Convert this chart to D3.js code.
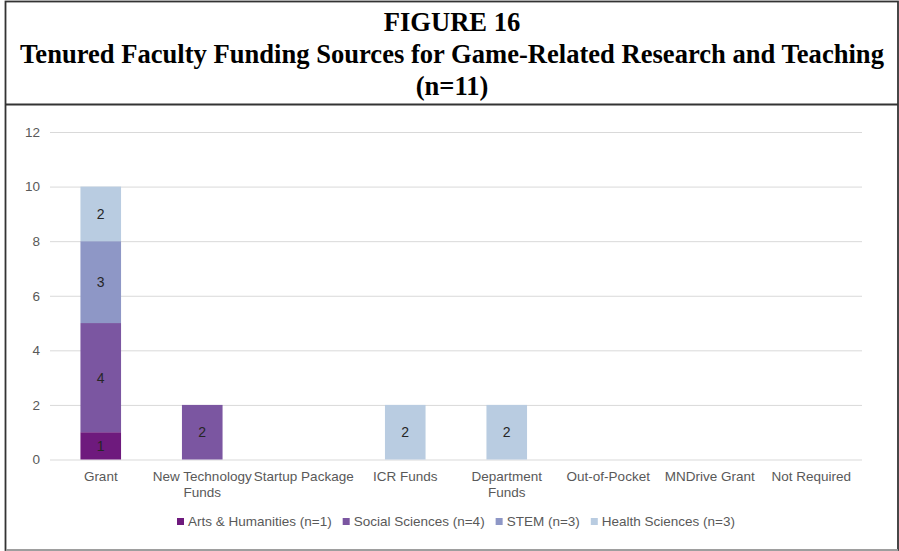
<!DOCTYPE html>
<html lang="en">
<head>
<meta charset="utf-8">
<title>Figure 16 - Tenured Faculty Funding Sources</title>
<script src="https://cdnjs.cloudflare.com/ajax/libs/d3/7.8.5/d3.min.js"></script>
<style>
body { margin: 0; background: #fff; }
.title { font-family: "Liberation Serif", "Times New Roman", serif; font-weight: bold; fill: #000; }
.tick text { font-family: "Liberation Sans", Arial, sans-serif; font-size: 13.5px; fill: #595959; }
.grid line { stroke: #d9d9d9; stroke-width: 1; }
.grid path { display: none; }
.barlabel { font-family: "Liberation Sans", Arial, sans-serif; font-size: 14px; fill: #262626; }
.legend text { font-family: "Liberation Sans", Arial, sans-serif; font-size: 13.5px; fill: #595959; }
</style>
</head>
<body>
<script>

var categories = ["Grant", "New Technology Funds", "Startup Package", "ICR Funds",
                  "Department Funds", "Out-of-Pocket", "MNDrive Grant", "Not Required"];
var arts   = [1, 0, 0, 0, 0, 0, 0, 0];
var social = [4, 2, 0, 0, 0, 0, 0, 0];
var stem   = [3, 0, 0, 0, 0, 0, 0, 0];
var health = [2, 0, 0, 2, 2, 0, 0, 0];
var seriesNames = ["Arts & Humanities (n=1)", "Social Sciences (n=4)", "STEM (n=3)", "Health Sciences (n=3)"];
var yTicks = [0, 2, 4, 6, 8, 10, 12];
var titleLines = ["FIGURE 16", "Tenured Faculty Funding Sources for Game-Related Research and Teaching", "(n=11)"];

var colors = ["#6e1a7d", "#7b56a1", "#8e97c6", "#b9cce1"];

var W = 899, H = 551;
var margin = { top: 132, right: 37, bottom: 91, left: 50 },
    width = W - margin.left - margin.right,
    height = 459.5 - margin.top;

var svg = d3.select("body").append("svg")
    .attr("width", W)
    .attr("height", H);

// frame
svg.append("rect")
    .attr("x", 5.5).attr("y", 1.5)
    .attr("width", 892.5).attr("height", 548.5)
    .attr("fill", "none").attr("stroke", "#333").attr("stroke-width", 1.8);
svg.append("line")
    .attr("x1", 5).attr("x2", 898).attr("y1", 104.5).attr("y2", 104.5)
    .attr("stroke", "#333").attr("stroke-width", 2);
svg.append("line")
    .attr("x1", 6).attr("x2", 898).attr("y1", 550).attr("y2", 550)
    .attr("stroke", "#bbb").attr("stroke-width", 1.5);

// title (slightly condensed like the original)
var titleY = [31, 63, 95];
titleLines.forEach(function(t, i) {
  svg.append("text")
      .attr("class", "title")
      .attr("transform", "translate(452," + titleY[i] + ") scale(0.985,1)")
      .attr("text-anchor", "middle")
      .style("font-size", "27px")
      .text(t);
});

var g = svg.append("g")
    .attr("transform", "translate(" + margin.left + "," + margin.top + ")");

var x = d3.scaleBand()
    .domain(categories)
    .range([0, width])
    .paddingInner(0.6)
    .paddingOuter(0.3);

var y = d3.scaleLinear()
    .domain([0, 12])
    .range([height, 0]);

// gridlines + y labels
g.append("g")
    .attr("class", "grid")
    .call(d3.axisLeft(y).tickValues(yTicks).tickSize(-width).tickPadding(10))
    .call(function(s) { s.selectAll(".tick text").attr("x", -10); });

// stacked data
var table = categories.map(function(c, i) {
  return { cat: c, s0: arts[i], s1: social[i], s2: stem[i], s3: health[i] };
});
var stack = d3.stack().keys(["s0", "s1", "s2", "s3"])(table);

var layer = g.selectAll(".layer")
    .data(stack)
  .enter().append("g")
    .attr("class", "layer")
    .attr("fill", function(d, i) { return colors[i]; });

layer.selectAll("rect")
    .data(function(d) { return d.filter(function(p) { return p[1] - p[0] > 0; }); })
  .enter().append("rect")
    .attr("x", function(d) { return x(d.data.cat); })
    .attr("y", function(d) { return y(d[1]); })
    .attr("width", x.bandwidth())
    .attr("height", function(d) { return y(d[0]) - y(d[1]); });

layer.selectAll("text")
    .data(function(d) { return d.filter(function(p) { return p[1] - p[0] > 0; }); })
  .enter().append("text")
    .attr("class", "barlabel")
    .attr("x", function(d) { return x(d.data.cat) + x.bandwidth() / 2; })
    .attr("y", function(d) { return (y(d[0]) + y(d[1])) / 2; })
    .attr("dy", "0.36em")
    .attr("text-anchor", "middle")
    .text(function(d) { return d[1] - d[0]; });

// x axis labels
var xAxis = g.append("g")
    .attr("transform", "translate(0," + height + ")")
    .call(d3.axisBottom(x).tickSize(0).tickPadding(12));
xAxis.select(".domain").remove();
xAxis.selectAll(".tick text").call(wrap, 106);

function wrap(text, w) {
  text.each(function() {
    var t = d3.select(this),
        words = t.text().split(/\s+/).reverse(),
        word, line = [], lineNo = 0,
        yy = t.attr("y"), dy = parseFloat(t.attr("dy")),
        tspan = t.text(null).append("tspan").attr("x", 0).attr("y", yy).attr("dy", dy + "em");
    while ((word = words.pop())) {
      line.push(word);
      tspan.text(line.join(" "));
      if (tspan.node().getComputedTextLength() > w && line.length > 1) {
        line.pop();
        tspan.text(line.join(" "));
        line = [word];
        tspan = t.append("tspan").attr("x", 0).attr("y", yy)
            .attr("dy", (++lineNo * 1.15 + dy) + "em").text(word);
      }
    }
  });
}

// legend
var legend = svg.append("g").attr("class", "legend");
var items = legend.selectAll("g")
    .data(seriesNames)
  .enter().append("g");
items.append("rect")
    .attr("width", 7).attr("height", 7)
    .attr("y", -8)
    .attr("fill", function(d, i) { return colors[i]; });
items.append("text")
    .attr("x", 11)
    .text(function(d) { return d; });

var offs = [], total = 0;
items.each(function() {
  offs.push(total);
  total += 11 + d3.select(this).select("text").node().getComputedTextLength() + 11;
});
total -= 11;
var lx = margin.left + width / 2 - total / 2;
items.attr("transform", function(d, i) { return "translate(" + (lx + offs[i]) + ",526)"; });

</script>
</body>
</html>
